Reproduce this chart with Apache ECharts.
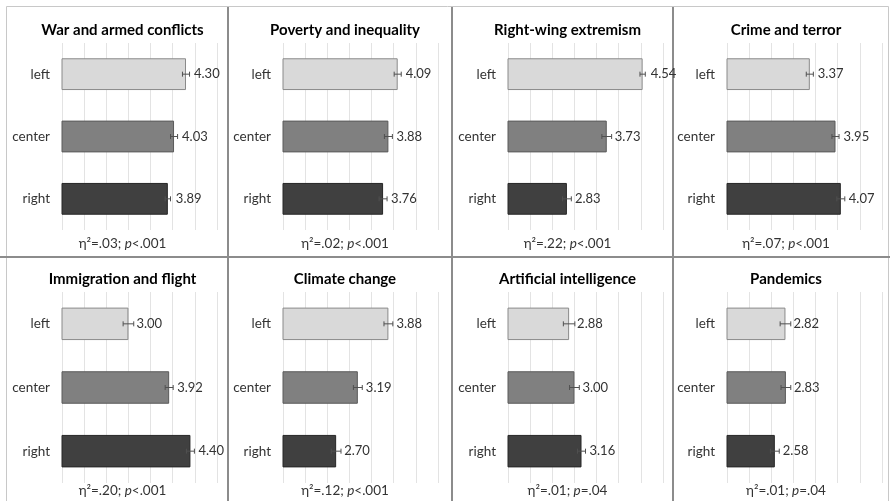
<!DOCTYPE html>
<html>
<head>
<meta charset="utf-8">
<script src="https://cdn.jsdelivr.net/npm/echarts@6/dist/echarts.min.js"></script>
<style>
  html, body { margin: 0; padding: 0; background: #fff; }
  #chart { width: 890px; height: 501px; }
</style>
</head>
<body>
<div id="chart"></div>
<script>
// topics, one panel each (top row then bottom row)
const topics = ['War and armed conflicts', 'Poverty and inequality', 'Right-wing extremism', 'Crime and terror',
  'Immigration and flight', 'Climate change', 'Artificial intelligence', 'Pandemics'];
const groups = ['left', 'center', 'right'];

// means per political orientation
const leftMeans = [4.30, 4.09, 4.54, 3.37, 3.00, 3.88, 2.88, 2.82];
const centerMeans = [4.03, 3.88, 3.73, 3.95, 3.92, 3.19, 3.00, 2.83];
const rightMeans = [3.89, 3.76, 2.83, 4.07, 4.40, 2.70, 3.16, 2.58];

// error bar half widths
const leftErr = [0.08, 0.08, 0.06, 0.08, 0.12, 0.10, 0.13, 0.12];
const centerErr = [0.08, 0.09, 0.11, 0.08, 0.09, 0.10, 0.11, 0.11];
const rightErr = [0.06, 0.09, 0.10, 0.09, 0.09, 0.11, 0.09, 0.10];

// effect sizes under each panel
const etaSq = ['.03', '.02', '.22', '.07', '.20', '.12', '.01', '.01'];
const pVals = ['<.001', '<.001', '<.001', '<.001', '<.001', '<.001', '=.04', '=.04'];

// scale ticks
const xMin = 1.5, xMax = 5, xStep = 0.5;

const barColors = ['#d9d9d9', '#808080', '#404040'];
const barBorders = ['#8a8a8a', '#5a5a5a', '#262626'];
const font = 'Lato';

const gridLefts = [62, 283, 508, 727];
const panelCenters = [117.5, 340, 562.5, 781];

var grids = [], xAxes = [], yAxes = [], series = [], titles = [];

for (let i = 0; i < topics.length; i++) {
  const col = i % 4, row = Math.floor(i / 4);
  grids.push({
    left: gridLefts[col],
    width: 155,
    top: row === 0 ? 43 : 292,
    height: row === 0 ? 187 : 191
  });
  xAxes.push({
    gridIndex: i,
    type: 'value',
    min: xMin,
    max: xMax,
    interval: xStep,
    axisLine: { show: false },
    axisTick: { show: false },
    axisLabel: { show: false },
    splitLine: { show: true, lineStyle: { color: '#e3e3e3', width: 1 } }
  });
  yAxes.push({
    gridIndex: i,
    type: 'category',
    inverse: true,
    data: groups,
    axisLine: { show: false },
    axisTick: { show: false },
    axisLabel: { color: '#333', fontSize: 13.5, fontFamily: font, margin: 12 }
  });

  const means = [leftMeans[i], centerMeans[i], rightMeans[i]];
  const errs = [leftErr[i], centerErr[i], rightErr[i]];

  series.push({
    type: 'bar',
    xAxisIndex: i,
    yAxisIndex: i,
    barWidth: '51%',
    silent: true,
    z: 2,
    data: means.map((v, k) => ({
      value: v,
      itemStyle: { color: barColors[k], borderColor: barBorders[k], borderWidth: 1 }
    })),
    label: {
      show: true,
      position: 'right',
      distance: 8,
      color: '#333',
      fontSize: 13,
      fontFamily: font,
      formatter: p => p.value.toFixed(2)
    }
  });

  // error whiskers
  series.push({
    type: 'custom',
    xAxisIndex: i,
    yAxisIndex: i,
    silent: true,
    z: 5,
    data: means.map((v, k) => [v, k, errs[k]]),
    encode: { x: 0, y: 1 },
    renderItem: function (params, api) {
      const v = api.value(0), c = api.value(1), e = api.value(2);
      const lo = api.coord([v - e, c]);
      const hi = api.coord([v + e, c]);
      const st = { stroke: '#505050', lineWidth: 1 };
      return {
        type: 'group',
        children: [
          { type: 'line', shape: { x1: lo[0], y1: lo[1], x2: hi[0], y2: hi[1] }, style: st },
          { type: 'line', shape: { x1: lo[0], y1: lo[1] - 2.5, x2: lo[0], y2: lo[1] + 2.5 }, style: st },
          { type: 'line', shape: { x1: hi[0], y1: hi[1] - 2.5, x2: hi[0], y2: hi[1] + 2.5 }, style: st }
        ]
      };
    }
  });

  titles.push({
    text: topics[i],
    left: panelCenters[col],
    top: row === 0 ? 18 : 267,
    textAlign: 'center',
    textStyle: { fontFamily: font, fontSize: 15, fontWeight: 'bold', color: '#000' }
  });
  titles.push({
    text: '{a|η²=' + etaSq[i] + '; }{i|p}{a|' + pVals[i] + '}',
    left: panelCenters[col],
    top: row === 0 ? 232 : 479,
    textAlign: 'center',
    textStyle: {
      fontWeight: 'normal',
      rich: {
        a: { fontFamily: font, fontSize: 13.5, color: '#333', fontWeight: 'normal' },
        i: { fontFamily: font, fontSize: 13.5, color: '#333', fontWeight: 'normal', fontStyle: 'italic' }
      }
    }
  });
}

const chart = echarts.init(document.getElementById('chart'));
chart.setOption({
  backgroundColor: '#fff',
  animation: false,
  title: titles,
  grid: grids,
  xAxis: xAxes,
  yAxis: yAxes,
  series: series,
  graphic: [
    { type: 'rect', shape: { x: 6.5, y: 6.5, width: 882, height: 500 }, style: { fill: null, stroke: '#c8c8c8', lineWidth: 1 } },
    { type: 'line', shape: { x1: 0, y1: 257, x2: 890, y2: 257 }, style: { stroke: '#8c8c8c', lineWidth: 2 } },
    { type: 'line', shape: { x1: 228, y1: 7, x2: 228, y2: 501 }, style: { stroke: '#8c8c8c', lineWidth: 2 } },
    { type: 'line', shape: { x1: 452, y1: 7, x2: 452, y2: 501 }, style: { stroke: '#8c8c8c', lineWidth: 2 } },
    { type: 'line', shape: { x1: 673, y1: 7, x2: 673, y2: 501 }, style: { stroke: '#8c8c8c', lineWidth: 2 } }
  ]
});
</script>
</body>
</html>
